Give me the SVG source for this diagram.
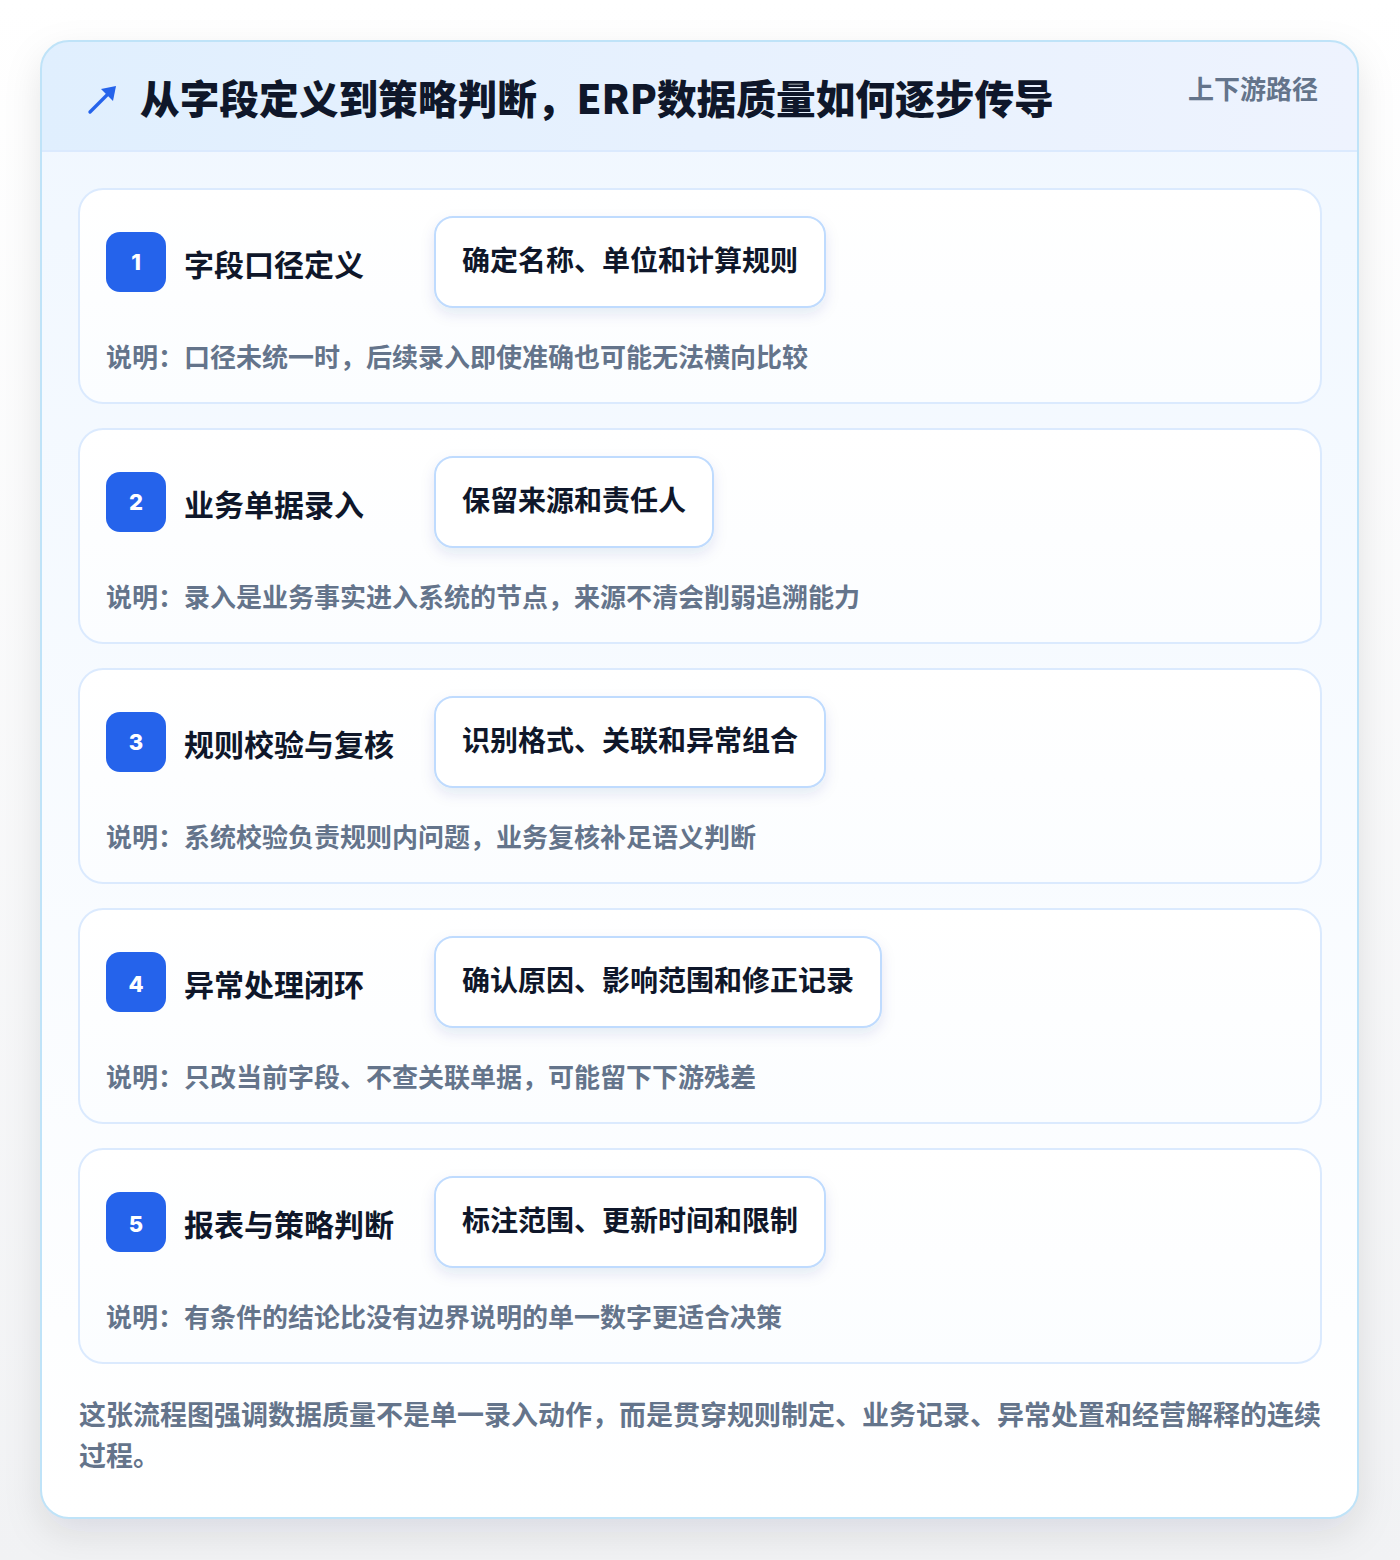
<svg xmlns="http://www.w3.org/2000/svg" width="1400" height="1560" viewBox="0 0 1400 1560">
<style>
text{font-family:"Noto Sans CJK SC","Noto Sans",sans-serif;font-weight:700}
.title{font-size:39.7px;fill:#0f172a;font-weight:900}
.tag{font-size:26px;fill:#64748b}
.card{fill:url(#cardg);stroke:#dbeafe;stroke-width:2}
.badge{fill:#2563eb}
.num{font-size:22px;fill:#ffffff;text-anchor:middle;font-family:"Inter","Noto Sans",sans-serif;font-weight:800}
.step{font-size:30px;fill:#0f172a}
.pill{fill:#ffffff;stroke:#bfdbfe;stroke-width:2}
.pt{font-size:28px;fill:#0f172a}
.desc{font-size:26px;fill:#64748b}
.foot{font-size:27px;fill:#64748b}
</style>
<defs>
<linearGradient id="bg" x1="0" y1="0" x2="0" y2="1"><stop offset="0" stop-color="#ffffff"/><stop offset="1" stop-color="#f1f2f4"/></linearGradient>
<linearGradient id="outerg" x1="0" y1="0" x2="0" y2="1"><stop offset="0" stop-color="#f0f7ff"/><stop offset="1" stop-color="#ffffff"/></linearGradient>
<linearGradient id="headg" x1="0" y1="0" x2="1" y2="0"><stop offset="0" stop-color="#e0effe"/><stop offset="1" stop-color="#eef3fe"/></linearGradient>
<linearGradient id="cardg" x1="0" y1="0" x2="0" y2="1"><stop offset="0" stop-color="#ffffff"/><stop offset="1" stop-color="#fbfdff"/></linearGradient>
<filter id="sh" x="-10%" y="-10%" width="120%" height="120%"><feDropShadow dx="0" dy="14" stdDeviation="18" flood-color="#0f172a" flood-opacity="0.10"/></filter>
<filter id="psh" x="-10%" y="-20%" width="120%" height="160%"><feDropShadow dx="0" dy="6" stdDeviation="7" flood-color="#1e3a8a" flood-opacity="0.10"/></filter>
<clipPath id="oc"><rect x="41" y="41" width="1317" height="1477" rx="28"/></clipPath>
</defs>
<rect width="1400" height="1560" fill="url(#bg)"/>
<g id="panel">
<rect x="41" y="41" width="1317" height="1477" rx="28" fill="url(#outerg)" filter="url(#sh)"/>
<g clip-path="url(#oc)">
<rect x="41" y="41" width="1317" height="110" fill="url(#headg)"/>
<line x1="41" y1="151" x2="1358" y2="151" stroke="#dbeafe" stroke-width="2"/>
</g>
<rect x="41" y="41" width="1317" height="1477" rx="28" fill="none" stroke="#bfe3f8" stroke-width="2"/>
</g>
<g id="header">
<path d="M90 112 L108 94" fill="none" stroke="#2563eb" stroke-width="3.4" stroke-linecap="round"/>
<path d="M116 86 L113 101 L101 89 Z" fill="#2563eb"/>
<text x="140" y="114" class="title">从字段定义到策略判断，ERP数据质量如何逐步传导</text>
<text x="1318" y="99" class="tag" text-anchor="end">上下游路径</text>
</g>
<g id="step1">
<rect x="79" y="189" width="1242" height="214" rx="24" class="card"/>
<rect x="106" y="232" width="60" height="60" rx="14" class="badge"/>
<text x="136" y="270" class="num">1</text>
<text x="184" y="276" class="step">字段口径定义</text>
<rect x="435" y="217" width="390" height="90" rx="18" class="pill" filter="url(#psh)"/>
<text x="462" y="271" class="pt">确定名称、单位和计算规则</text>
<text x="106" y="367" class="desc">说明：口径未统一时，后续录入即使准确也可能无法横向比较</text>
</g>
<g id="step2">
<rect x="79" y="429" width="1242" height="214" rx="24" class="card"/>
<rect x="106" y="472" width="60" height="60" rx="14" class="badge"/>
<text x="136" y="510" class="num">2</text>
<text x="184" y="516" class="step">业务单据录入</text>
<rect x="435" y="457" width="278" height="90" rx="18" class="pill" filter="url(#psh)"/>
<text x="462" y="511" class="pt">保留来源和责任人</text>
<text x="106" y="607" class="desc">说明：录入是业务事实进入系统的节点，来源不清会削弱追溯能力</text>
</g>
<g id="step3">
<rect x="79" y="669" width="1242" height="214" rx="24" class="card"/>
<rect x="106" y="712" width="60" height="60" rx="14" class="badge"/>
<text x="136" y="750" class="num">3</text>
<text x="184" y="756" class="step">规则校验与复核</text>
<rect x="435" y="697" width="390" height="90" rx="18" class="pill" filter="url(#psh)"/>
<text x="462" y="751" class="pt">识别格式、关联和异常组合</text>
<text x="106" y="847" class="desc">说明：系统校验负责规则内问题，业务复核补足语义判断</text>
</g>
<g id="step4">
<rect x="79" y="909" width="1242" height="214" rx="24" class="card"/>
<rect x="106" y="952" width="60" height="60" rx="14" class="badge"/>
<text x="136" y="992" class="num">4</text>
<text x="184" y="996" class="step">异常处理闭环</text>
<rect x="435" y="937" width="446" height="90" rx="18" class="pill" filter="url(#psh)"/>
<text x="462" y="991" class="pt">确认原因、影响范围和修正记录</text>
<text x="106" y="1087" class="desc">说明：只改当前字段、不查关联单据，可能留下下游残差</text>
</g>
<g id="step5">
<rect x="79" y="1149" width="1242" height="214" rx="24" class="card"/>
<rect x="106" y="1192" width="60" height="60" rx="14" class="badge"/>
<text x="136" y="1232" class="num">5</text>
<text x="184" y="1236" class="step">报表与策略判断</text>
<rect x="435" y="1177" width="390" height="90" rx="18" class="pill" filter="url(#psh)"/>
<text x="462" y="1231" class="pt">标注范围、更新时间和限制</text>
<text x="106" y="1327" class="desc">说明：有条件的结论比没有边界说明的单一数字更适合决策</text>
</g>
<g id="connectors"></g>
<g id="footer">
<text x="79" y="1425" class="foot">这张流程图强调数据质量不是单一录入动作，而是贯穿规则制定、业务记录、异常处置和经营解释的连续</text>
<text x="79" y="1466" class="foot">过程。</text>
</g>
</svg>
